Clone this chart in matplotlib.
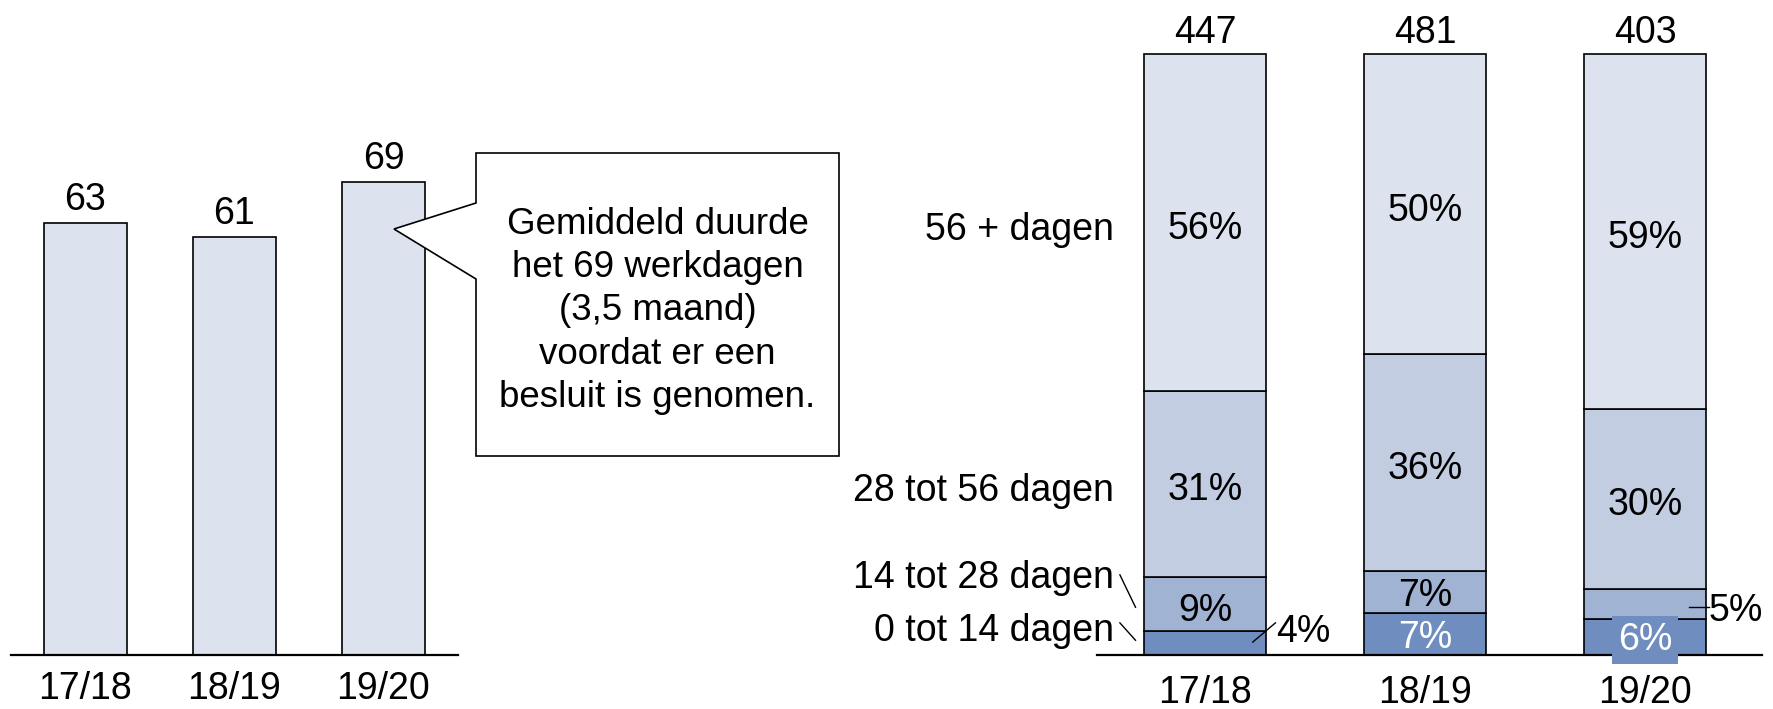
import matplotlib
matplotlib.use("Agg")
import matplotlib.pyplot as plt
from matplotlib.patches import Polygon
import numpy as np

plt.rcParams["font.family"] = ["Liberation Sans", "DejaVu Sans"]

# ---- data ---------------------------------------------------------------
years = ["17/18", "18/19", "19/20"]
avg_workdays = [63, 61, 69]

totals = [447, 481, 403]
duration_classes = ["0 tot 14 dagen", "14 tot 28 dagen", "28 tot 56 dagen", "56 + dagen"]
share_0_14 = [4, 7, 6]
share_14_28 = [9, 7, 5]
share_28_56 = [31, 36, 30]
share_56_plus = [56, 50, 59]

callout_text = ("Gemiddeld duurde\nhet 69 werkdagen\n(3,5 maand)\n"
                "voordat er een\nbesluit is genomen.")

# ---- styling ------------------------------------------------------------
W, H, DPI = 1773, 709, 100
FS = 27
c_light = "#dce3ee"
seg_colors = ["#6f8ebf", "#a1b3d3", "#c2cde1", "#dce3ee"]
edge_lw = 1.2
DY = 1.1  # small downward nudge for labels inside the stacked bars

fig = plt.figure(figsize=(W / DPI, H / DPI), dpi=DPI)


def px_rect(x0, x1, y_base, y_top):
    """Axes rectangle from pixel coordinates (y measured from the top)."""
    return [x0 / W, 1 - y_base / H, (x1 - x0) / W, (y_base - y_top) / H]


def style_axes(ax):
    for s in ["top", "right", "left"]:
        ax.spines[s].set_visible(False)
    ax.spines["bottom"].set_linewidth(1.6)
    ax.set_xticks([])
    ax.set_yticks([])
    ax.patch.set_alpha(0)


# ---- left: average duration --------------------------------------------
axL = fig.add_axes(px_rect(11.3, 458, 654.7, 0))
style_axes(axL)
xL = np.arange(len(years))
axL.bar(xL, avg_workdays, width=0.553, color=c_light, edgecolor="black",
        linewidth=edge_lw, zorder=2)
axL.set_xlim(-0.497, 2.50)
axL.set_ylim(0, 95.5)
for x, v in zip(xL, avg_workdays):
    axL.text(x, v + 3.3, str(v), ha="center", va="center", fontsize=FS)
for x, lab in zip(xL, years):
    axL.text(x, -5.0, lab, ha="center", va="center", fontsize=FS, clip_on=False)

# speech-bubble callout
bubble_px = [(476, 153), (839, 153), (839, 456), (476, 456), (476, 279),
             (394, 229), (476, 203)]
bubble = Polygon([(x / W, 1 - y / H) for x, y in bubble_px], closed=True,
                 transform=fig.transFigure, facecolor="white",
                 edgecolor="black", linewidth=1.2, zorder=5)
fig.patches.append(bubble)
fig.text(657.5 / W, 1 - 311 / H, callout_text, ha="center", va="center",
         fontsize=26.5, linespacing=1.31, zorder=6)

# ---- right: distribution over duration classes -------------------------
axR = fig.add_axes(px_rect(1096.8, 1761.6, 654.7, 0))
style_axes(axR)
xR = np.arange(len(years))
segments = [share_0_14, share_14_28, share_28_56, share_56_plus]
bottom = np.zeros(len(years))
centers = []
for vals, col in zip(segments, seg_colors):
    vals = np.array(vals, dtype=float)
    axR.bar(xR, vals, bottom=bottom, width=0.5545, color=col,
            edgecolor="black", linewidth=edge_lw, zorder=2)
    centers.append(bottom + vals / 2)
    bottom = bottom + vals
axR.set_xlim(-0.493, 2.529)
axR.set_ylim(0, 109.04)

# totals above bars
for x, t, top in zip(xR, totals, bottom):
    axR.text(x, top + 3.55, str(t), ha="center", va="center", fontsize=FS)

# percentage labels inside segments
for i in range(len(years)):
    axR.text(xR[i], centers[3][i] - DY, f"{share_56_plus[i]}%", ha="center",
             va="center", fontsize=FS, zorder=4)
    axR.text(xR[i], centers[2][i] - DY, f"{share_28_56[i]}%", ha="center",
             va="center", fontsize=FS, zorder=4)

# 14-28 labels
axR.text(xR[0], centers[1][0] - 1.3, f"{share_14_28[0]}%", ha="center",
         va="center", fontsize=FS, zorder=4)
axR.text(xR[1], centers[1][1] - 0.8, f"{share_14_28[1]}%", ha="center",
         va="center", fontsize=FS, zorder=4)
axR.text(2.41, 7.3, f"{share_14_28[2]}%", ha="center", va="center",
         fontsize=FS, zorder=4, clip_on=False)
axR.plot([2.20, 2.29], [centers[1][2] - 0.6] * 2, color="black", lw=1.0,
         zorder=4, clip_on=False)

# 0-14 labels
axR.text(0.445, 3.8, f"{share_0_14[0]}%", ha="center", va="center",
         fontsize=FS, zorder=4)
axR.plot([0.216, 0.319], [2.1, 5.3], color="black", lw=1.0, zorder=4)
axR.text(xR[1], centers[0][1] - 0.7, f"{share_0_14[1]}%", ha="center",
         va="center", fontsize=FS, color="white", zorder=4)
axR.text(xR[2], centers[0][2] - 0.6, f"{share_0_14[2]}%", ha="center",
         va="center", fontsize=FS, color="white", zorder=4,
         bbox=dict(boxstyle="square,pad=0.16", facecolor=seg_colors[0],
                   edgecolor="none"))

# category labels on the left of the stack
lab_x = -0.416
axR.text(lab_x, centers[3][0] - 1.3, duration_classes[3], ha="right",
         va="center", fontsize=FS, clip_on=False)
axR.text(lab_x, centers[2][0] - 1.3, duration_classes[2], ha="right",
         va="center", fontsize=FS, clip_on=False)
axR.text(lab_x, 12.7, duration_classes[1], ha="right", va="center",
         fontsize=FS, clip_on=False)
axR.text(lab_x, 3.9, duration_classes[0], ha="right", va="center",
         fontsize=FS, clip_on=False)
axR.plot([-0.388, -0.317], [13.3, 7.9], color="black", lw=1.0, clip_on=False)
axR.plot([-0.388, -0.317], [5.3, 2.4], color="black", lw=1.0, clip_on=False)

for x, lab in zip(xR, years):
    axR.text(x, -6.4, lab, ha="center", va="center", fontsize=FS, clip_on=False)

fig.savefig("out.png", dpi=DPI, facecolor="white")
